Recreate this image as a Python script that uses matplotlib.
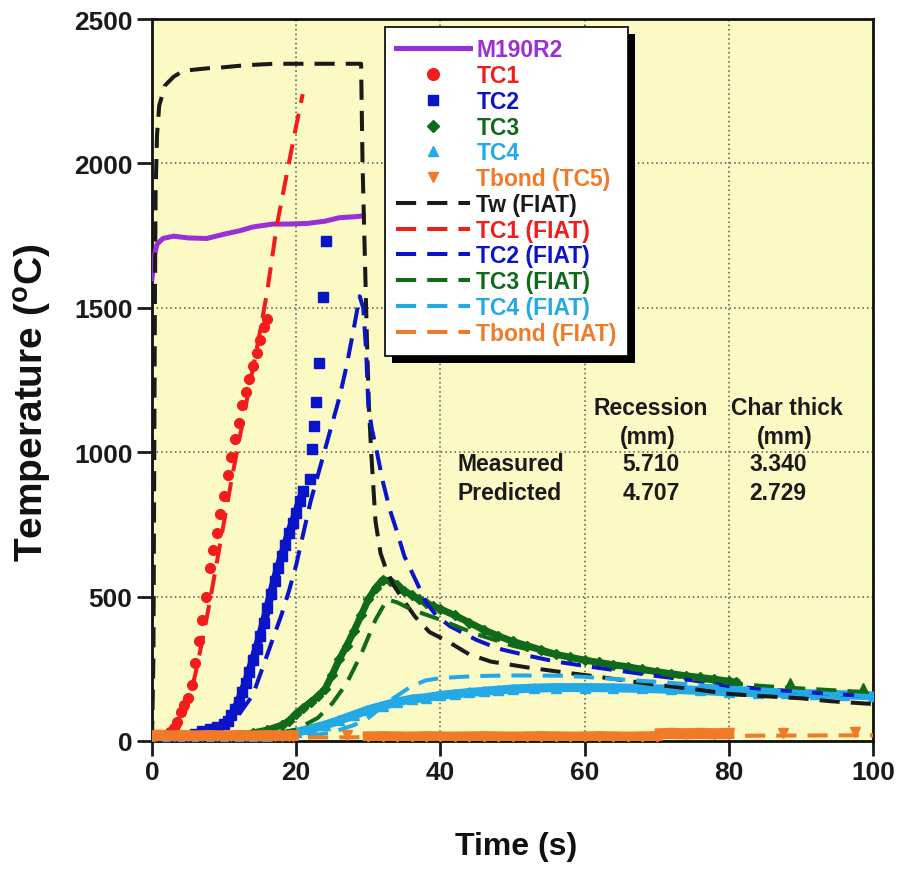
import numpy as np
import matplotlib
matplotlib.use("Agg")
import matplotlib.pyplot as plt
from matplotlib.patches import Rectangle
from matplotlib.transforms import IdentityTransform

plt.rcParams['font.family'] = ['Liberation Sans', 'DejaVu Sans']
plt.rcParams['font.weight'] = 'bold'
plt.rcParams['mathtext.fontset'] = 'custom'
plt.rcParams['mathtext.rm'] = 'Liberation Sans:bold'
plt.rcParams['mathtext.bf'] = 'Liberation Sans:bold'

nan = np.nan

# ---------------- data ----------------
m190_t = [0, 0.3, 0.7, 1.5, 3, 5, 7.6, 10, 12.2, 14, 16.8, 19, 21.5, 24, 26, 28, 29.3]
m190_v = [1600, 1680, 1720, 1740, 1748, 1742, 1740, 1755, 1767, 1780, 1790, 1790, 1792, 1800, 1812, 1815, 1818]

tc1_t = [1.0, 1.5, 2.0, 2.5, 3.0, 3.5, 4.0, 4.5, 5.0, 5.5, 6.0, 6.5, 7.0, 7.5, 8.0, 8.5,
         9.0, 9.5, 10.0, 10.5, 11.0, 11.5, 12.0, 12.5, 13.0, 13.5, 14.0, 14.5, 15.0, 15.5, 16.0]
tc1_v = [5, 10, 20, 32, 45, 65, 100, 125, 150, 195, 270, 345, 420, 500, 600, 660,
         720, 785, 850, 920, 985, 1045, 1100, 1165, 1210, 1255, 1300, 1345, 1390, 1435, 1460]

tc2_t = [0, 1, 2, 3, 4, 5, 6, 7, 8, 9, 10, 10.5, 11, 11.5, 12, 12.5, 13, 13.5, 14, 14.5,
         15, 15.5, 16, 16.5, 17, 17.5, 18, 18.5, 19, 19.5, 20, 20.5, 21]
tc2_v = [0, 2, 5, 8, 12, 18, 25, 33, 40, 48, 58, 70, 90, 110, 135, 170, 200, 240, 280, 320,
         365, 410, 460, 510, 555, 600, 640, 680, 720, 755, 790, 830, 865]
tc2_late_t = [21.9, 22.2, 22.4, 22.7, 23.1, 23.7, 24.2]
tc2_late_v = [907, 1011, 1090, 1175, 1310, 1538, 1730]

tc3_t = [0, 2, 4, 6, 8, 10, 12, 14, 16, 18, 19, 20, 21, 22, 23, 24, 25, 26, 27, 28, 29, 30,
         31, 32, 33, 34, 35, 36, 37, 38, 39, 40, 42, 44, 46, 48, 50, 52, 54, 56, 58, 60, 62,
         64, 66, 68, 70, 72, 74, 76, 78, 80, 81]
tc3_v = [0, 3, 6, 9, 12, 15, 20, 28, 38, 55, 70, 95, 115, 135, 155, 180, 230, 284, 330, 380,
         435, 490, 530, 558, 555, 540, 520, 505, 490, 478, 467, 457, 435, 410, 385, 364, 345,
         330, 315, 300, 290, 280, 272, 264, 257, 248, 240, 233, 226, 220, 214, 207, 204]
tc3_late_t = [88.5, 98.6]
tc3_late_v = [200, 182]

tc4_t = [0, 2, 4, 6, 8, 10, 12, 14, 16, 18, 20, 22, 24, 26, 28, 30, 32, 34, 36, 38, 40, 42,
         44, 46, 48, 50, 53, 56, 60, 64, 68, 72, 76, 80, 84, 88, 92, 96, 100]
tc4_v = [0, 2, 4, 5, 6, 8, 10, 12, 15, 20, 30, 42, 55, 72, 90, 108, 122, 135, 145, 150, 158,
         163, 168, 172, 176, 180, 183, 185, 185, 184, 182, 179, 175, 170, 167, 165, 163, 160, 156]

tb_t = [0, 1, 2, 3, 4, 5, 6, 7, 8, 9, 10, 11, 12, 13, 14, 15, 16, 17, 18, 19, 19.6, nan,
        27, nan, 30, 32, 34, 36, 38, 40, 42, 44, 46, 48, 50, 52, 54, 56, 58, 60, 62, 64, 66,
        68, 70, nan, 70.5, 72, 74, 76, 78, 80, nan, 87.5, nan, 97.5]
tb_v = [18, 20, 18, 17, 19, 18, 17, 18, 19, 18, 17, 18, 19, 18, 17, 18, 19, 18, 17, 18, 18, nan,
        20, nan, 14, 15, 14, 13, 15, 14, 13, 14, 15, 14, 13, 14, 15, 14, 13, 14, 15, 14, 13,
        14, 15, nan, 25, 26, 25, 26, 25, 26, nan, 28, nan, 30]

tw_t = [0, 0.2, 0.3, 0.4, 0.5, 0.7, 1.0, 1.8, 3, 4.3, 6, 8, 10, 13, 17, 22, 29, 29.2, 29.5,
        29.8, 30.1, 30.4, 31, 31.7, 32.6, 33.5, 34.8, 36.5, 38.5, 41, 44, 47, 52, 57, 62, 66,
        70, 75, 80, 85, 90, 94, 100]
tw_v = [0, 300, 900, 1500, 1900, 2100, 2200, 2270, 2300, 2320, 2325, 2330, 2333, 2340, 2345,
        2345, 2345, 2000, 1700, 1400, 1150, 1000, 760, 650, 585, 540, 490, 430, 377, 345, 300,
        275, 255, 238, 222, 208, 195, 180, 163, 155, 148, 138, 128]

tc1f_t = [2, 3, 4, 5, 6, 7, 8, 9, 10, 11, 12, 13, 14, 15, 16, 17.3, 18.9, 20, 20.9]
tc1f_v = [0, 20, 60, 130, 230, 350, 480, 620, 760, 900, 1030, 1160, 1290, 1420, 1560, 1783,
          1990, 2130, 2240]

tc2f_t = [0, 5, 8, 10, 12, 14, 15, 16, 17, 18, 19, 20, 21, 22, 23, 24, 25, 26, 27, 28, 28.8,
          29.3, 29.7, 30, 30.5, 31.2, 32, 33, 34, 35, 36.7, 38, 39.5, 41.3, 45, 48, 52.4, 56,
          60, 66.3, 70, 75, 80, 85, 90, 95, 100]
tc2f_v = [0, 10, 25, 45, 90, 160, 230, 300, 370, 440, 520, 610, 720, 830, 920, 1010, 1100,
          1190, 1300, 1430, 1540, 1500, 1350, 1160, 1080, 1000, 900, 800, 723, 640, 550, 480,
          433, 398, 350, 320, 294, 275, 260, 238, 225, 210, 190, 180, 170, 162, 155]

tc3f_t = [0, 10, 15, 20, 23, 25, 27, 29, 31, 32.6, 34, 36, 40, 45, 50, 55, 60, 65, 70, 75,
          80, 85, 90, 95, 100]
tc3f_v = [0, 5, 15, 40, 80, 130, 200, 300, 420, 490, 480, 455, 420, 370, 330, 300, 275, 255,
          235, 215, 200, 190, 182, 175, 168]

tc4f_t = [0, 10, 20, 25, 28, 30, 33, 36, 38, 40, 45, 50, 57, 60, 65, 70, 75, 80, 85, 90, 95, 100]
tc4f_v = [0, 3, 12, 30, 55, 80, 140, 190, 210, 218, 225, 227, 226, 222, 213, 205, 195, 185,
          178, 170, 162, 155]

tbf_t = [0, 20, 40, 60, 80, 100]
tbf_v = [10, 12, 14, 16, 18, 20]

x_ticks = [0, 20, 40, 60, 80, 100]
y_ticks = [0, 500, 1000, 1500, 2000, 2500]

table_cols = ["Recession\n(mm)", "Char thick\n(mm)"]
table_rows = ["Measured", "Predicted"]
table_vals = [["5.710", "3.340"], ["4.707", "2.729"]]

# ---------------- colours ----------------
C_PURPLE = '#9A2FD6'
C_RED = '#F41B1B'
C_BLUE = '#0A14C8'
C_GREEN = '#0F6A1C'
C_CYAN = '#22A9E6'
C_ORANGE = '#F07A28'
C_BLACK = '#1A1A1A'

fig = plt.figure(figsize=(9.08, 8.70), dpi=100)
ax = fig.add_axes([152/908, 1-742/870, 721/908, 722/870])
ax.set_facecolor('#FBF9C4')

DASH = (5, 2.75)
LW = 2.9

# measured bands
ax.plot(tc2_t, tc2_v, '-', color=C_BLUE, lw=6, zorder=2)
ax.plot(tc3_t, tc3_v, '-', color=C_GREEN, lw=5, zorder=2)
ax.plot(tc4_t, tc4_v, '-', color=C_CYAN, lw=6.5, zorder=2)

h_m190, = ax.plot(m190_t, m190_v, '-', color=C_PURPLE, lw=3.6, label='M190R2', zorder=3)
h_tc1, = ax.plot(tc1_t, tc1_v, ls='none', marker='o', ms=7, color=C_RED, label='TC1', zorder=3)
h_tc2, = ax.plot(tc2_t, tc2_v, ls='none', marker='s', ms=6.5, color=C_BLUE, label='TC2', zorder=3)
ax.plot(tc2_late_t, tc2_late_v, ls='none', marker='s', ms=7.5, color=C_BLUE, zorder=3)
h_tc3, = ax.plot(tc3_t, tc3_v, ls='none', marker='D', ms=5.5, color=C_GREEN, label='TC3', zorder=3)
ax.plot(tc3_late_t, tc3_late_v, ls='none', marker='^', ms=7, color=C_GREEN, zorder=3)
h_tc4, = ax.plot(tc4_t, tc4_v, ls='none', marker='^', ms=6.5, color=C_CYAN, label='TC4', zorder=3)

h_tw, = ax.plot(tw_t, tw_v, color=C_BLACK, lw=LW, dashes=DASH, label='Tw (FIAT)', zorder=4)
h_tc1f, = ax.plot(tc1f_t, tc1f_v, color=C_RED, lw=LW, dashes=DASH, label='TC1 (FIAT)', zorder=4)
h_tc2f, = ax.plot(tc2f_t, tc2f_v, color=C_BLUE, lw=LW, dashes=DASH, label='TC2 (FIAT)', zorder=4)
h_tc3f, = ax.plot(tc3f_t, tc3f_v, color=C_GREEN, lw=LW, dashes=DASH, label='TC3 (FIAT)', zorder=4)
h_tc4f, = ax.plot(tc4f_t, tc4f_v, color=C_CYAN, lw=LW, dashes=DASH, label='TC4 (FIAT)', zorder=4)
h_tbf, = ax.plot(tbf_t, tbf_v, color=C_ORANGE, lw=LW, dashes=DASH, label='Tbond (FIAT)', zorder=4)

ax.plot(tb_t, tb_v, '-', color=C_ORANGE, lw=8, zorder=4.2)
h_tb, = ax.plot(tb_t, tb_v, ls='none', marker='v', ms=6.5, color=C_ORANGE, label='Tbond (TC5)', zorder=4.2)

ax.set_xlim(0, 100)
ax.set_ylim(0, 2500)
ax.set_xticks(x_ticks)
ax.set_yticks(y_ticks)
ax.tick_params(direction='out', length=11, width=2, labelsize=19, pad=3, colors='#1a1a1a')
ax.tick_params(top=False, right=False)
for lab in ax.get_xticklabels() + ax.get_yticklabels():
    lab.set_fontweight('bold')
for sp in ax.spines.values():
    sp.set_linewidth(2)
    sp.set_color('#111111')
ax.grid(True, linestyle=(0, (1, 2)), color='#555555', lw=1.1, zorder=1)
ax.set_axisbelow(True)

ax.set_xlabel('Time (s)', fontsize=23, fontweight='bold', color='#111111')
ax.set_ylabel(r'Temperature ($^{\mathbf{o}}$C)', fontsize=28, fontweight='bold', color='#111111')
ax.xaxis.set_label_coords(0.505, -0.1247)
ax.yaxis.set_label_coords(-0.136, 0.47)

handles = [h_m190, h_tc1, h_tc2, h_tc3, h_tc4, h_tb, h_tw, h_tc1f, h_tc2f, h_tc3f, h_tc4f, h_tbf]
label_colors = [C_PURPLE, C_RED, C_BLUE, C_GREEN, C_CYAN, C_ORANGE, C_BLACK,
                C_RED, C_BLUE, C_GREEN, C_CYAN, C_ORANGE]
leg = ax.legend(handles=handles, loc='upper left', bbox_to_anchor=(0.3232, 0.9889),
                borderaxespad=0, fontsize=16.5, handlelength=3.19, handletextpad=0.3,
                borderpad=0.5, labelspacing=0.12, numpoints=1, fancybox=False,
                framealpha=1, edgecolor='black', facecolor='white', markerscale=1.2)
leg.get_frame().set_linewidth(1.2)
for txt, c in zip(leg.get_texts(), label_colors):
    txt.set_color(c)
    txt.set_fontweight('bold')

# table text
tkw = dict(transform=ax.transAxes, fontsize=16.5, fontweight='bold', color='#1a1a1a')
col_x = [0.692, 0.881]
for cx, name in zip(col_x, table_cols):
    a, b = name.split('\n')
    ax.text(cx, 0.4626, a, ha='center', va='center', **tkw)
    ax.text(cx - 0.004, 0.4224, b, ha='center', va='center', **tkw)
row_y = [0.384, 0.344]
for ry, rname, vals in zip(row_y, table_rows, table_vals):
    ax.text(0.424, ry, rname, ha='left', va='center', **tkw)
    ax.text(0.692, ry, vals[0], ha='center', va='center', **tkw)
    ax.text(0.868, ry, vals[1], ha='center', va='center', **tkw)

# legend shadow
fig.canvas.draw()
bb = leg.get_window_extent()
shadow = Rectangle((bb.x0 + 7, bb.y0 - 7), bb.width, bb.height, transform=IdentityTransform(),
                   facecolor='black', edgecolor='none', zorder=4.9, clip_on=False)
ax.add_artist(shadow)
leg.set_zorder(5)

fig.savefig('out.png', dpi=100)
